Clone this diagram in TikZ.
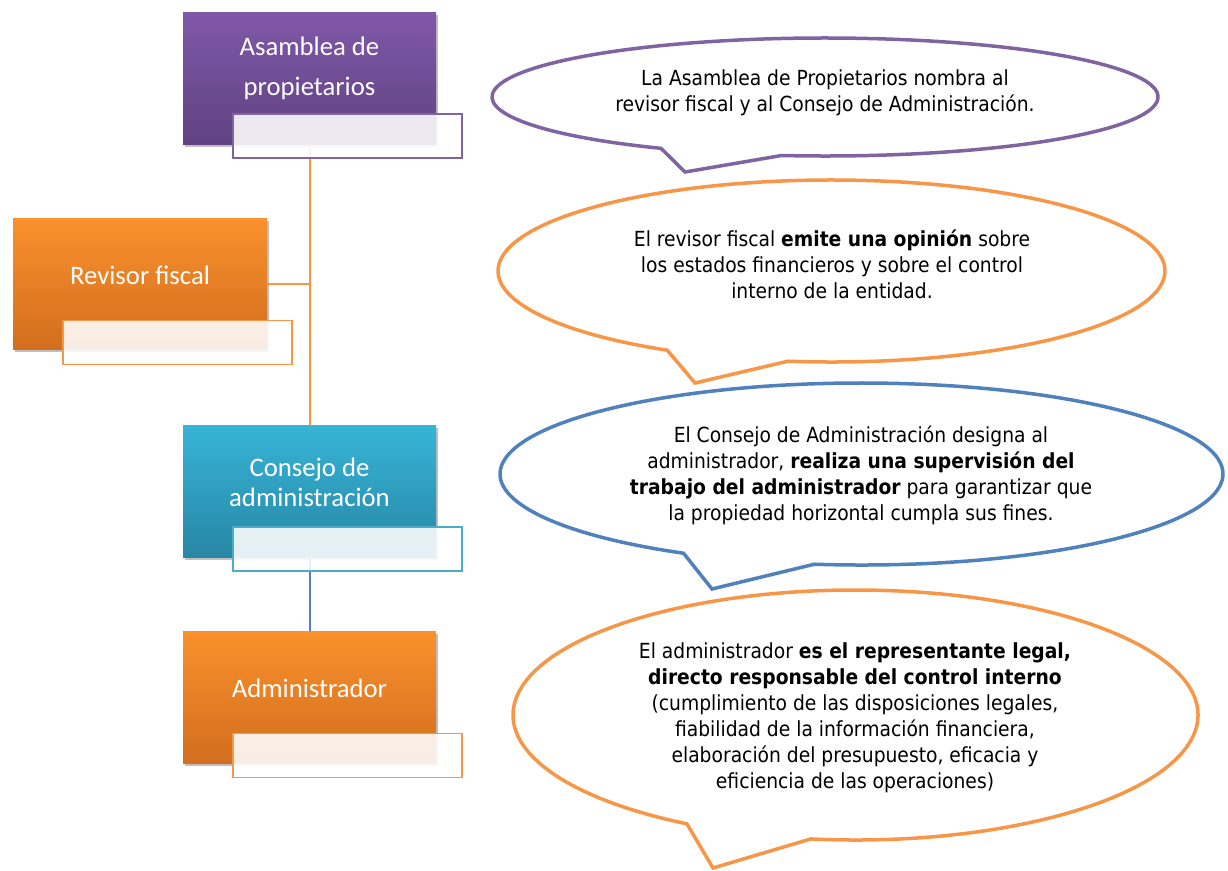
\documentclass[tikz,border=0pt]{standalone}
\usepackage{fontspec}
\setmainfont{DejaVu Sans Condensed}
\newfontfamily\boxfont{Carlito}
\usetikzlibrary{shadows}
\definecolor{purTop}{HTML}{8058A8}
\definecolor{purBot}{HTML}{604282}
\definecolor{orTop}{HTML}{FA912D}
\definecolor{orBot}{HTML}{D26E1E}
\definecolor{tlTop}{HTML}{37B4D7}
\definecolor{tlBot}{HTML}{2887A5}
\definecolor{purLine}{HTML}{8064A2}
\definecolor{orLine}{HTML}{F79646}
\definecolor{tlLine}{HTML}{4BACC6}
\definecolor{blLine}{HTML}{4F81BD}
\begin{document}
\begin{tikzpicture}[x=1pt,y=-1pt,
  mainbox/.style={minimum width=253pt, minimum height=132pt, inner sep=0pt,
    drop shadow={shadow xshift=1.5pt, shadow yshift=-3pt, opacity=0.25, fill=black}},
  subbox/.style={minimum width=229pt, minimum height=44pt, inner sep=0pt,
    fill=white, fill opacity=0.88, line width=1.5pt},
  boxtext/.style={text=white, font=\boxfont\fontsize{26.7}{40}\selectfont, align=center, inner sep=0pt},
  boxtextb/.style={text=white, font=\boxfont\fontsize{26.7}{30}\selectfont, align=center, inner sep=0pt},
  calltext/.style={font=\fontsize{20.8}{26}\selectfont, align=center, text=black, inner sep=0pt},
  callout/.style={line width=3.5pt, fill=white, line join=miter},
  link/.style={line width=2pt}
]
\useasboundingbox (0,0) rectangle (1228,870);

% main boxes
\node[mainbox, top color=purTop, bottom color=purBot] (asam) at (309.5,78) {};
\node[mainbox, top color=orTop, bottom color=orBot, minimum width=254pt, minimum height=131pt] (rev) at (140,283.5) {};
\node[mainbox, top color=tlTop, bottom color=tlBot] (cons) at (309.5,491) {};
\node[mainbox, top color=orTop, bottom color=orBot] (adm) at (309.5,697) {};

% connectors
\draw[link, draw=orLine] (asam.south) -- (cons.north);
\draw[link, draw=orLine] (rev.east) -- (rev.east -| asam.south);
\draw[link, draw=blLine] (cons.south) -- (adm.north);

% box texts
\node[boxtext] (asamT) at (309.5,68) {Asamblea de\\propietarios};
\node[boxtextb] (revT) at (140,275) {Revisor fiscal};
\node[boxtextb] (consT) at (309.5,482) {Consejo de\\administración};
\node[boxtextb] (admT) at (309.5,688) {Administrador};

% sub boxes
\node[subbox, draw=purLine] (asamS) at (347.5,136) {};
\node[subbox, draw=orLine] (revS) at (177.5,342.5) {};
\node[subbox, draw=tlLine] (consS) at (347.5,549) {};
\node[subbox, draw=orLine] (admS) at (347.5,755.5) {};

% callouts
\coordinate (c1) at (825,97);
\coordinate (t1) at (685,172);
\draw[callout, draw=purLine] (c1) ++(262.5:333pt and 59pt)
  arc[start angle=262.5, end angle=600.5, x radius=333pt, y radius=59pt] -- (t1) -- cycle;
\node[calltext] (n1) at (825,93) {La Asamblea de Propietarios nombra al\\revisor fiscal y al Consejo de Administración.};

\coordinate (c2) at (831.5,271);
\coordinate (t2) at (695,383);
\draw[callout, draw=orLine] (c2) ++(262.5:333.5pt and 91pt)
  arc[start angle=262.5, end angle=600.5, x radius=333.5pt, y radius=91pt] -- (t2) -- cycle;
\node[calltext] (n2) at (832,264) {El revisor fiscal \textbf{emite una opinión} sobre\\los estados financieros y sobre el control\\interno de la entidad.};

\coordinate (c3) at (861.5,474);
\coordinate (t3) at (712,589);
\draw[callout, draw=blLine] (c3) ++(262.5:361.5pt and 91pt)
  arc[start angle=262.5, end angle=600.5, x radius=361.5pt, y radius=91pt] -- (t3) -- cycle;
\node[calltext] (n3) at (861,475) {El Consejo de Administración designa al\\administrador, \textbf{realiza una supervisión del}\\\textbf{trabajo del administrador} para garantizar que\\la propiedad horizontal cumpla sus fines.};

\coordinate (c4) at (855.5,715);
\coordinate (t4) at (713,868);
\draw[callout, draw=orLine] (c4) ++(262.5:342.5pt and 125pt)
  arc[start angle=262.5, end angle=600.5, x radius=342.5pt, y radius=125pt] -- (t4) -- cycle;
\node[calltext] (n4) at (855,718) {El administrador \textbf{es el representante legal,}\\\textbf{directo responsable del control interno}\\(cumplimiento de las disposiciones legales,\\fiabilidad de la información financiera,\\elaboración del presupuesto, eficacia y\\eficiencia de las operaciones)};
\end{tikzpicture}
\end{document}
